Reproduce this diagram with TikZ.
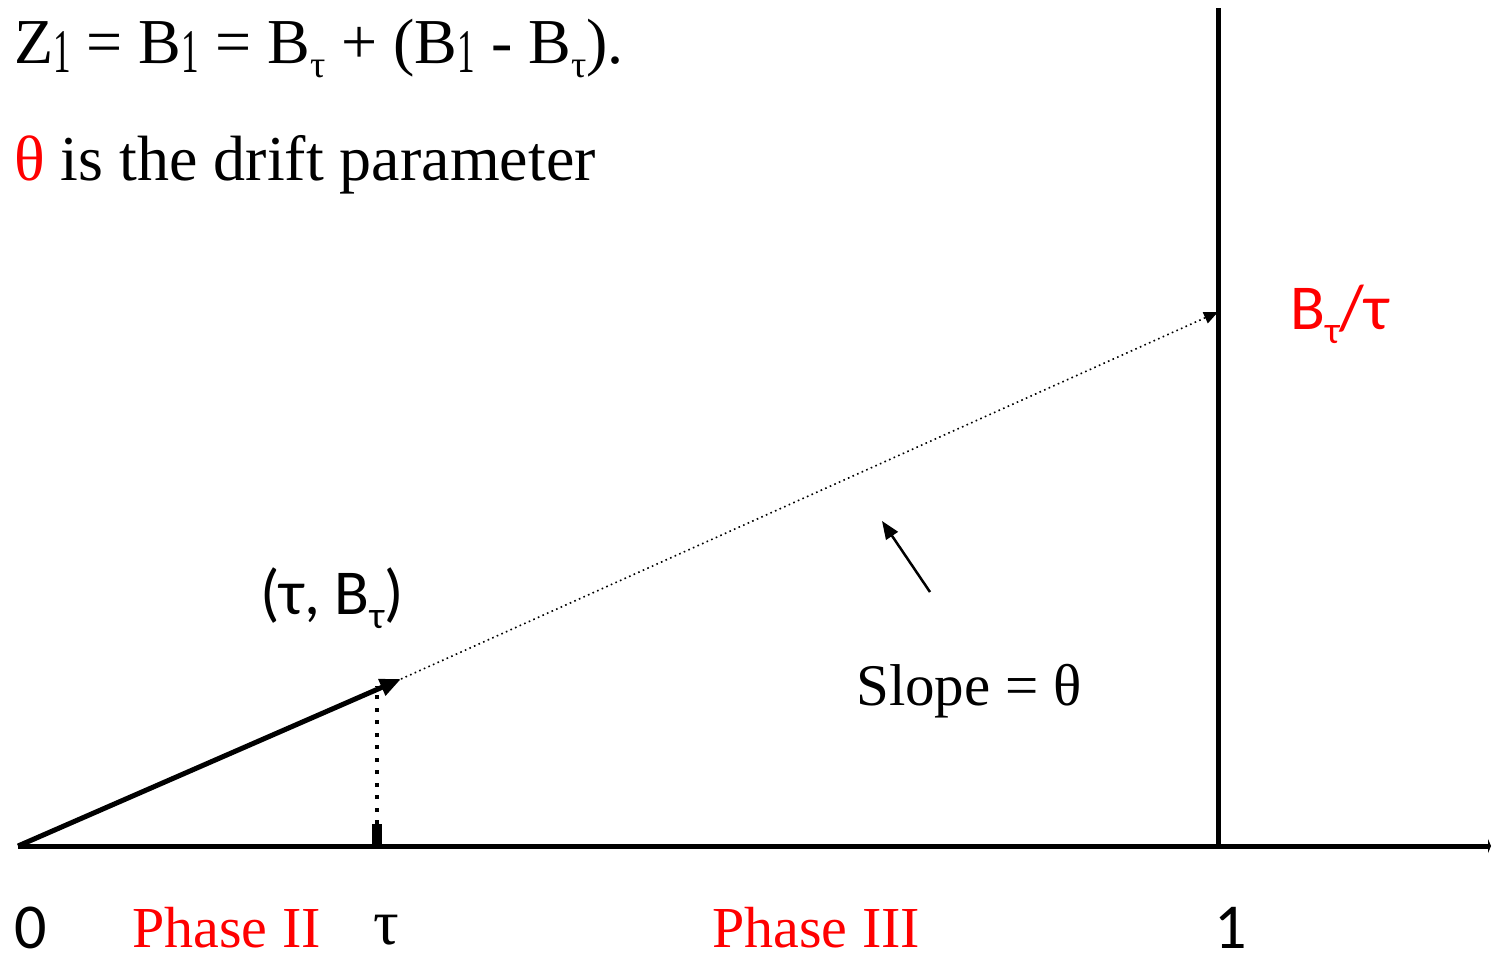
\documentclass[tikz,border=0pt]{standalone}
\usepackage{fontspec}
\usepackage{graphicx}
\setmainfont{Liberation Serif}
\newfontfamily\calfont{Carlito}
\usetikzlibrary{arrows.meta, positioning, calc}
\usepackage{xcolor}
\definecolor{redC}{HTML}{FF0000}
\definecolor{blackC}{HTML}{000000}
\newcommand{\lowsub}[1]{\raisebox{-0.22em}{\fontsize{38}{40}\selectfont #1}}
\newcommand{\onesub}{\raisebox{-9pt}{\scalebox{0.55}[0.97]{1}}}
\tikzset{
  serifTxt/.style={inner sep=0pt, anchor=base west, font=\fontsize{64}{70}\selectfont, text=blackC},
  phaseTxt/.style={inner sep=0pt, anchor=base west, font=\fontsize{58}{64}\selectfont, text=redC},
  calTxt/.style={inner sep=0pt, anchor=base west, font=\calfont\fontsize{64}{70}\selectfont, text=blackC},
  axisLn/.style={line width=5pt, draw=blackC},
  thickArw/.style={-{Triangle[length=21pt, width=17pt]}, line width=5pt, draw=blackC},
  dotArw/.style={-{Triangle[length=14pt, width=12pt]}, line width=1.6pt, draw=blackC, dash pattern=on 1.6pt off 3.4pt},
  dotLn/.style={line width=4pt, draw=blackC, dash pattern=on 4pt off 8.5pt},
  thinArw/.style={-{Triangle[length=18pt, width=14pt]}, line width=2.5pt, draw=blackC}
}
\begin{document}
\begin{tikzpicture}[x=1pt, y=-1pt]
  \useasboundingbox (0,0) rectangle (1493,959);

  % ── Points ──
  \coordinate (orig) at (18,846);
  \coordinate (axEnd) at (1491,846);
  \coordinate (pt) at (401,679);
  \coordinate (ptEnd) at (1218,312);
  \coordinate (oneTop) at (1218,8);
  \coordinate (oneBot) at (1218,846);
  \coordinate (tauBot) at (377,846);
  \coordinate (tauTop) at (377,824);
  \coordinate (tauDot) at (377,686);
  \coordinate (slFrom) at (930,592);
  \coordinate (slTo) at (882,521);

  % ── Axes ──
  \draw[axisLn, -{Triangle[length=3pt, width=14pt]}] (orig) -- (axEnd);
  \draw[axisLn] (oneBot) -- (oneTop);
  \draw[line width=10pt, draw=blackC] (tauBot) -- (tauTop);

  % ── Path ──
  \draw[thickArw] (orig) -- (pt);
  \draw[dotArw] (pt) -- (ptEnd);
  \draw[dotLn] (tauTop) -- (tauDot);
  \draw[thinArw] (slFrom) -- (slTo);

  % ── Labels ──
  \node[serifTxt] (eqn) at (14,63) {Z\onesub{} = B\onesub{} = B\lowsub{τ} + (B\onesub{} - B\lowsub{τ}).};
  \node[serifTxt] (drift) at (14,180) {\textcolor{redC}{θ} is the drift parameter};
  \node[calTxt] (ptLbl) at (260,614) {(τ, B\lowsub{\calfont τ})};
  \node[calTxt, text=redC] (ratio) at (1290,329) {B\lowsub{\calfont τ}/τ};
  \node[serifTxt, font=\fontsize{59}{65}\selectfont] (slope) at (856,705) {Slope = θ};
  \node[calTxt] (zero) at (14,948) {0};
  \node[phaseTxt] (ph2) at (132,947) {Phase II};
  \node[serifTxt] (tauLbl) at (373,944) {τ};
  \node[phaseTxt] (ph3) at (712,947) {Phase III};
  \node[calTxt] (one) at (1214,948) {1};
\end{tikzpicture}
\end{document}
